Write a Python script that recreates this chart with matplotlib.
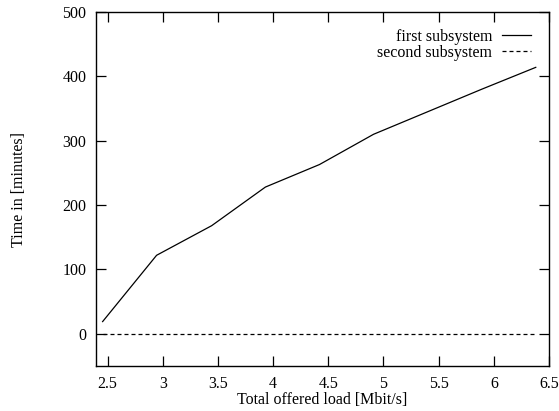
import matplotlib
matplotlib.use("Agg")
import matplotlib.pyplot as plt

plt.rcParams['font.family'] = ['Liberation Serif', 'DejaVu Serif']

# Offered load (Mbit/s) and completion time (minutes)
load = [2.455, 2.944, 3.443, 3.93, 4.42, 4.91, 5.40, 5.89, 6.38]
first_subsystem = [19, 122, 168, 228, 263, 310, 345, 380, 414]
second_subsystem = [0, 0, 0, 0, 0, 0, 0, 0, 0]

x_ticks = [2.5, 3, 3.5, 4, 4.5, 5, 5.5, 6, 6.5]
y_ticks = [0, 100, 200, 300, 400, 500]

FS = 11.5

fig = plt.figure(figsize=(5.59, 4.11), dpi=100)
ax = fig.add_axes([96 / 559, 1 - 366 / 411, (549 - 96) / 559, (366 - 12) / 411])

ax.plot(load, first_subsystem, color='black', linewidth=0.9, label='first subsystem')
ax.plot(load, second_subsystem, color='black', linewidth=0.9, linestyle=(0, (3.2, 2.4)),
        label='second subsystem')

ax.set_xlim(2.395, 6.5)
ax.set_ylim(-50, 500)
ax.set_xticks(x_ticks)
ax.set_xticklabels(['2.5', '3', '3.5', '4', '4.5', '5', '5.5', '6', '6.5'])
ax.set_yticks(y_ticks)

ax.tick_params(direction='in', length=7, width=0.9, top=True, right=True,
               labelsize=FS, colors='black')
ax.tick_params(axis='x', pad=7)
ax.tick_params(axis='y', pad=7)
for s in ax.spines.values():
    s.set_linewidth(1.0)

ax.set_xlabel('Total offered load [Mbit/s]', fontsize=FS, labelpad=0)
ax.set_ylabel('Time in [minutes]', fontsize=FS, labelpad=25.5)

ax.legend(loc='upper right', bbox_to_anchor=(0.9735, 0.97), frameon=False,
          markerfirst=False, fontsize=FS, handlelength=1.8, handletextpad=0.6,
          labelspacing=0.0, borderaxespad=0.0, borderpad=0.4)

fig.savefig('out.png', dpi=100)
